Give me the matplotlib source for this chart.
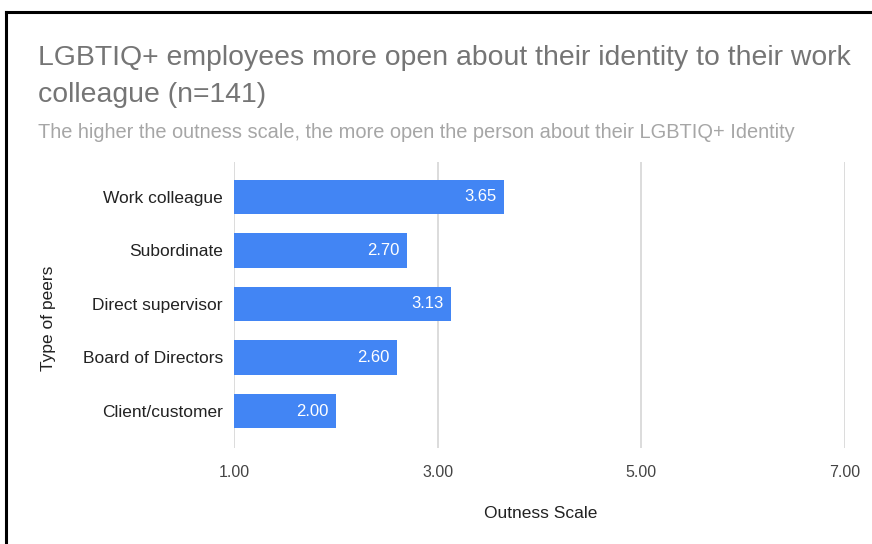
import matplotlib.pyplot as plt
from matplotlib.lines import Line2D

plt.rcParams['font.family'] = ['Liberation Sans', 'DejaVu Sans']

# survey results: mean outness score per type of peer
peers = ["Work colleague", "Subordinate", "Direct supervisor",
         "Board of Directors", "Client/customer"]
scores = [3.65, 2.70, 3.13, 2.60, 2.00]
x_ticks = [1, 3, 5, 7]

bar_color = "#4285F4"

fig = plt.figure(figsize=(8.72, 5.44), dpi=100)
W, H = 872, 544

# axes placed in pixel units: left 234, right 845, top 162, bottom 448
ax = fig.add_axes([234 / W, 1 - 448 / H, (845 - 234) / W, (448 - 162) / H])

y = list(range(len(peers)))
base = x_ticks[0]
ax.barh(y, [s - base for s in scores], left=base, height=0.64,
        color=bar_color, zorder=3)

for yi, s in zip(y, scores):
    ax.text(s - 0.07, yi, f"{s:.2f}", ha="right", va="center",
            color="white", fontsize=12, zorder=4)

ax.set_xlim(x_ticks[0], x_ticks[-1])
ax.set_ylim(4.69, -0.65)
ax.set_xticks(x_ticks)
ax.set_xticklabels([f"{t:.2f}" for t in x_ticks], fontsize=11.5, color="#444444")
ax.set_yticks(y)
ax.set_yticklabels(peers, fontsize=12.5, color="#222222")
ax.tick_params(length=0)
ax.tick_params(axis="x", pad=12)
ax.tick_params(axis="y", pad=8)

ax.grid(axis="x", color="#d9d9d9", linewidth=1.3, zorder=0)
for sp in ax.spines.values():
    sp.set_visible(False)

fig.text(541 / W, 1 - 513 / H, "Outness Scale", ha="center", va="center",
         fontsize=12.5, color="#222222")
fig.text(48 / W, 1 - 318 / H, "Type of peers", rotation=90, ha="center",
         va="center", fontsize=12.5, color="#222222")

# title and subtitle
fig.text(38 / W, 1 - 58 / H, "LGBTIQ+ employees more open about their identity to their work",
         fontsize=20.4, color="#757575", va="center")
fig.text(38 / W, 1 - 95 / H, "colleague (n=141)",
         fontsize=20.4, color="#757575", va="center")
fig.text(38 / W, 1 - 133 / H,
         "The higher the outness scale, the more open the person about their LGBTIQ+ Identity",
         fontsize=14.4, color="#a6a6a6", va="center")

# frame line along the top and left edges
fig.add_artist(Line2D([6 / W, 1], [1 - 12 / H, 1 - 12 / H], color="black", linewidth=2.2))
fig.add_artist(Line2D([6 / W, 6 / W], [0, 1 - 12 / H], color="black", linewidth=2.2))

fig.savefig("out.png", dpi=100)
